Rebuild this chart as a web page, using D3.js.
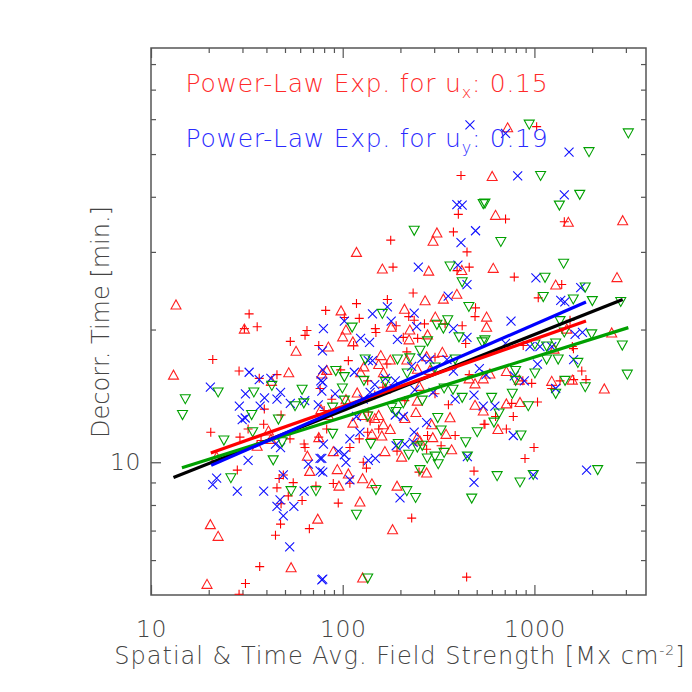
<!DOCTYPE html>
<html><head><meta charset="utf-8">
<script src="https://cdn.jsdelivr.net/npm/d3@7"></script>
<style>body{margin:0;background:#fff}svg{display:block}</style></head>
<body><svg id="c" width="692" height="692"></svg>
<script>
// ---------------- data ----------------
const xDomain = [10, 3820];
const yDomain = [5, 87];
const xMajorTicks = [10, 100, 1000];
const xMinorTicks = [20,30,40,50,60,70,80,90,200,300,400,500,600,700,800,900,2000,3000];
const yMajorTicks = [10];
const yMinorTicks = [6,7,8,9,20,30,40,50,60,70,80];

const plusPts = [[32.5,21.7],[35.8,20.3],[65.1,19.9],[63.6,19.4],[53.3,18.8],[75.0,18.4],[21.0,17.1],[28.8,16.1],[36.7,15.5],[45.4,15.8],[76.2,14.7],[39.0,13.2],[38.7,12.2],[47.7,12.8],[20.5,11.7],[32.1,11.9],[29.1,11.4],[37.5,11.2],[53.1,11.3],[62.9,11.0],[63.6,10.8],[75.0,11.4],[28.2,9.6],[49.0,9.36],[46.6,9.19],[55.2,8.99],[45.4,8.75],[52.0,8.39],[72.5,8.83],[61.4,8.19],[47.7,8.05],[47.4,7.24],[67.0,7.07],[44.6,6.83],[36.9,5.80],[31.1,5.31],[28.8,5.02],[414,44.7],[401,36.5],[378,33.3],[178,31.9],[445,30.0],[183,27.7],[395,27.2],[457,27.7],[233,24.2],[118,22.9],[171,23.4],[493,22.4],[81.5,22.1],[221,21.4],[102,21.3],[122,21.2],[148,20.1],[149,19.7],[190,20.4],[236,21.0],[267,20.6],[342,20.6],[420,20.4],[490,21.4],[207,19.2],[246,19.1],[438,18.6],[114,18.4],[216,17.8],[303,17.3],[107,17.0],[97.6,16.2],[170,16.7],[457,15.8],[135,15.3],[162,14.8],[177,14.7],[87.7,13.9],[147,14.2],[211,13.8],[303,14.3],[356,13.5],[136,13.0],[80.0,13.1],[139,12.4],[546,12.2],[82.5,11.9],[122,11.3],[135,11.7],[154,11.9],[277,11.5],[386,11.5],[109,10.8],[192,10.6],[274,10.7],[326,10.9],[128,10.0],[133,9.7],[109,8.96],[89.3,8.95],[250,9.5],[484,9.55],[94.8,8.08],[229,7.47],[443,5.49],[1027,57.7],[707,35.6],[1432,35.1],[785,26.3],[1388,25.3],[1047,23.6],[1534,21.0],[874,18.4],[1577,18.3],[1598,18.1],[1766,16.1],[968,15.1],[870,15.3],[1360,15.3],[1602,15.4],[1858,15.4],[1231,14.7],[761,13.6],[1038,13.7],[627,12.7],[776,12.7],[552,12.2],[714,11.9],[995,10.8],[893,10.2],[30.7,20.1]];

const triPts = [[13.5,22.8],[30.7,20.1],[57.1,17.9],[13.1,15.8],[42.5,15.3],[52.3,16.0],[77.8,15.9],[77.0,13.2],[41.0,11.8],[35.8,10.9],[42.2,11.3],[75.0,11.4],[22.0,10.3],[65.4,10.35],[67.3,9.56],[74.1,7.45],[20.4,7.24],[22.4,6.81],[53.8,5.78],[19.6,5.30],[118,30.0],[310,33.2],[296,31.8],[161,27.5],[281,27.2],[418,27.3],[269,23.3],[335,23.5],[394,24.1],[98,22.1],[210,22.3],[104,20.0],[179,20.3],[224,20.0],[304,21.4],[563,21.4],[563,20.3],[100,19.3],[113,18.8],[222,19.0],[277,19.5],[84.2,18.3],[158,17.5],[177,17.1],[216,17.1],[274,17.4],[331,17.8],[82.5,16.2],[124,16.0],[129,16.5],[163,16.0],[154,16.7],[245,16.3],[285,16.2],[457,15.5],[541,15.5],[490,15.1],[167,14.7],[119,14.4],[104,13.9],[251,14.9],[245,13.8],[490,13.5],[541,13.1],[241,13.0],[84.2,12.8],[147,12.6],[154,12.8],[127,12.8],[211,12.6],[113,12.3],[163,12.2],[363,12.65],[291,12.2],[142,11.6],[160,11.5],[177,11.9],[245,11.4],[253,11.2],[295,11.4],[346,11.6],[89.3,10.6],[166,10.6],[203,10.3],[370,10.7],[93.7,9.65],[107,9.43],[127,9.2],[95.6,8.85],[142,8.96],[274,9.48],[192,8.85],[123,8.15],[182,7.05],[127,5.48],[725,57.5],[602,44.6],[627,36.4],[1503,35.1],[2886,35.4],[610,27.6],[2697,26.3],[1291,25.3],[1475,20.1],[2530,19.7],[1266,18.1],[586,15.9],[714,16.1],[834,15.4],[1231,15.3],[1577,15.4],[2315,14.7],[714,13.6],[841,13.7],[645,11.9]];

const crossPts = [[79.3,20.1],[78.4,17.9],[32.5,16.0],[36.7,15.4],[42.2,15.5],[76.9,15.3],[77.8,14.5],[20.4,14.8],[31.1,14.3],[39.1,14.0],[47.4,14.4],[45.4,13.9],[28.9,13.4],[37.1,13.4],[53.3,13.6],[63.4,13.8],[74.6,13.5],[29.9,12.5],[31.0,12.6],[44.6,11.0],[47.4,10.8],[32.1,10.1],[66.2,9.9],[76.2,9.56],[77.8,10.2],[22.0,9.2],[21.0,8.9],[28.2,8.6],[49.0,9.36],[38.7,8.6],[62.9,8.6],[47.1,8.22],[45.4,7.94],[55.6,7.94],[49.0,7.56],[52.9,6.43],[77.8,5.41],[461,58.2],[394,38.4],[420,38.3],[493,33.5],[414,31.5],[248,27.7],[399,28.0],[445,25.3],[355,23.8],[171,22.5],[143,21.7],[236,21.8],[102,20.9],[179,20.9],[243,20.3],[378,20.1],[445,19.2],[124,19.1],[138,18.7],[193,19.0],[136,17.0],[143,17.0],[229,16.5],[259,17.2],[285,17.1],[350,17.1],[78.7,16.2],[115,16.0],[378,16.1],[516,16.3],[559,15.8],[167,15.5],[78.7,15.2],[147,15.0],[188,15.3],[91.3,14.3],[139,14.4],[128,13.9],[238,14.6],[296,14.4],[386,13.9],[484,14.2],[541,13.4],[118,12.7],[188,12.8],[207,12.7],[274,12.3],[123,11.7],[236,11.7],[109,11.3],[79.3,11.0],[94.8,10.6],[102,10.4],[190,10.9],[211,11.0],[233,11.1],[447,10.3],[76.2,10.2],[136,10.1],[148,10.2],[104,10.0],[78.7,9.5],[109,9.12],[199,8.3],[484,9.0],[78.7,5.43],[707,55.7],[1516,50.5],[818,44.6],[1432,40.4],[1018,26.2],[1744,24.9],[1372,23.3],[1441,23.1],[755,20.9],[1630,19.5],[1780,19.7],[707,18.6],[948,18.3],[1069,18.3],[1231,18.3],[1602,17.1],[1038,16.7],[785,15.7],[886,15.3],[1291,14.7],[622,13.4],[776,11.5],[986,9.36],[1871,9.6]];

const downPts = [[22.4,14.4],[15.1,13.9],[34.4,14.4],[42.7,14.9],[61.4,14.6],[56.4,13.4],[62.7,13.6],[14.6,12.8],[33.5,12.8],[46.2,12.5],[33.9,11.7],[24.0,11.2],[48.3,11.1],[43.4,10.1],[26.1,9.2],[53.8,8.6],[72.5,8.6],[541,38.5],[236,33.5],[363,27.8],[420,25.6],[455,22.5],[161,21.7],[112,20.2],[310,20.5],[353,21.0],[335,20.1],[404,19.2],[277,18.8],[534,18.7],[253,17.9],[131,17.1],[193,17.1],[224,17.2],[386,17.1],[92,16.1],[102,15.6],[217,15.9],[303,16.4],[129,15.3],[99.6,14.7],[167,15.2],[102,13.8],[260,13.8],[338,14.7],[376,14.6],[420,14.0],[207,13.6],[180,13.3],[190,13.0],[88.6,13.3],[135,12.7],[313,12.6],[88.6,11.6],[326,11.8],[503,11.7],[438,11.1],[140,11.0],[195,11.0],[221,10.4],[245,10.8],[260,10.9],[338,10.5],[276,10.2],[303,10.3],[315,9.9],[447,10.3],[149,8.65],[253,9.6],[216,8.6],[240,8.3],[471,8.27],[118,7.6],[135,5.45],[940,58.3],[3090,55.7],[1927,50.5],[1077,44.6],[1724,40.4],[1350,38.2],[552,38.6],[668,31.6],[1420,28.2],[1136,26.2],[1841,24.9],[1112,23.7],[1595,23.4],[2005,23.2],[2820,23.1],[1360,20.9],[1432,19.7],[1990,19.5],[2873,18.4],[1006,18.5],[1158,18.3],[1291,18.6],[552,18.9],[1158,17.1],[1330,17.1],[1685,16.8],[798,16.1],[1006,15.9],[798,15.3],[3052,15.8],[1445,15.3],[1841,14.8],[1291,14.3],[767,14.3],[598,14.0],[929,13.4],[654,12.9],[615,12.3],[851,11.5],[639,9.3],[841,9.0],[986,9.36],[2138,9.6]];

// power-law fits: x range and y at the two ends
const fitNames = ['all', 'green', 'ux', 'uy'];
const fitXEnds = [[13.1, 2888], [14.5, 3090], [20.5, 1858], [20.6, 1858]];
const fitYEnds = [[9.23, 23.4], [9.72, 20.2], [10.5, 20.9], [9.84, 23.1]];

const legendPre = ['Power-Law Exp. for u', 'Power-Law Exp. for u'];
const legendSub = ['x', 'y'];
const legendPost = [': 0.15', ': 0.19'];

const xTitle = 'Spatial & Time Avg. Field Strength [Mx cm';
const xTitleSup = '-2';
const yTitle = 'Decorr. Time [min.]';

// ---------------- drawing ----------------
const L = 151, R = 646, T = 48, B = 595;
const FONT = '"DejaVu Sans", sans-serif';
const AX = '#555';
const svg = d3.select('#c');
svg.append('rect').attr('width', 692).attr('height', 692).attr('fill', '#fff');

const x = d3.scaleLog().domain(xDomain).range([L, R]);
const y = d3.scaleLog().domain(yDomain).range([B, T]);

svg.append('clipPath').attr('id', 'clip').append('rect')
  .attr('x', L).attr('y', T).attr('width', R - L).attr('height', B - T);

const fmt = d3.format('d');
function ax(gen, vals, size, tr, labels, pad) {
  const g = svg.append('g').attr('transform', tr)
    .call(gen.tickValues(vals).tickSize(size).tickPadding(pad || 3)
      .tickFormat(labels ? fmt : () => ''));
  g.select('.domain').remove();
  g.selectAll('.tick line').attr('stroke', AX).attr('stroke-width', 1.2);
  g.selectAll('.tick text').attr('fill', '#444').attr('font-family', FONT)
    .attr('font-size', 23.5).attr('font-weight', 200).attr('letter-spacing', 0.5);
  return g;
}
ax(d3.axisBottom(x), xMinorTicks, -5, `translate(0,${B})`, false);
ax(d3.axisBottom(x), xMajorTicks, -10, `translate(0,${B})`, true, 25);
ax(d3.axisTop(x), xMinorTicks, -5, `translate(0,${T})`, false);
ax(d3.axisTop(x), xMajorTicks, -10, `translate(0,${T})`, false);
ax(d3.axisLeft(y), yMinorTicks, -5, `translate(${L},0)`, false);
ax(d3.axisLeft(y), yMajorTicks, -10, `translate(${L},0)`, true, 10);
ax(d3.axisRight(y), yMinorTicks, -5, `translate(${R},0)`, false);
ax(d3.axisRight(y), yMajorTicks, -10, `translate(${R},0)`, false);

svg.append('rect').attr('x', L).attr('y', T).attr('width', R - L).attr('height', B - T)
  .attr('fill', 'none').attr('stroke', AX).attr('stroke-width', 1.5);

const plot = svg.append('g').attr('clip-path', 'url(#clip)');
const r = 4.5, tw = 5, th = 4.5;
const shapes = {
  plus: `M${-r},0H${r}M0,${-r}V${r}`,
  cross: `M${-r},${-r}L${r},${r}M${-r},${r}L${r},${-r}`,
  up: `M${-tw},${th}L0,${-th}L${tw},${th}Z`,
  down: `M${-tw},${-th}L0,${th}L${tw},${-th}Z`
};
function markers(data, shape, color) {
  plot.append('g').selectAll('path').data(data).join('path')
    .attr('transform', d => `translate(${x(d[0])},${y(d[1])})`)
    .attr('d', shapes[shape]).attr('fill', 'none')
    .attr('stroke', color).attr('stroke-width', 1.1);
}
markers(plusPts, 'plus', '#ff0000');
markers(triPts, 'up', '#ff2020');
markers(crossPts, 'cross', '#1010ff');
markers(downPts, 'down', '#00a000');

const fitColors = {all: '#000000', green: '#00a000', ux: '#ff0000', uy: '#0000ff'};
const line = d3.line().x(d => x(d[0])).y(d => y(d[1]));
fitNames.forEach((n, i) => {
  const pts = [[fitXEnds[i][0], fitYEnds[i][0]], [fitXEnds[i][1], fitYEnds[i][1]]];
  plot.append('path').attr('d', line(pts)).attr('fill', 'none')
    .attr('stroke', fitColors[n]).attr('stroke-width', 3.2);
});

// legend text
const legColors = ['#ff2a2a', '#2a2aff'];
const legY = [91.7, 146.7];
legendPre.forEach((p, i) => {
  const t = svg.append('text').attr('x', 185.5).attr('y', legY[i])
    .attr('fill', legColors[i]).attr('font-family', FONT).attr('font-size', 25)
    .attr('font-weight', 200).attr('letter-spacing', 0.75);
  t.append('tspan').text(p);
  t.append('tspan').attr('dy', 6).attr('font-size', 16).text(legendSub[i]);
  t.append('tspan').attr('dy', -6).text(legendPost[i]);
});

// axis titles
const xt = svg.append('text').attr('x', 400).attr('y', 664).attr('text-anchor', 'middle')
  .attr('fill', '#444').attr('font-family', FONT).attr('font-size', 24)
  .attr('font-weight', 200).attr('letter-spacing', 1.0);
xt.append('tspan').text(xTitle);
xt.append('tspan').attr('dy', -9).attr('font-size', 14).text(xTitleSup);
xt.append('tspan').attr('dy', 9).text(']');

svg.append('text').attr('transform', 'translate(109,322) rotate(-90)')
  .attr('text-anchor', 'middle').attr('fill', '#444').attr('font-family', FONT)
  .attr('font-size', 24).attr('font-weight', 200).text(yTitle);
</script></body></html>
